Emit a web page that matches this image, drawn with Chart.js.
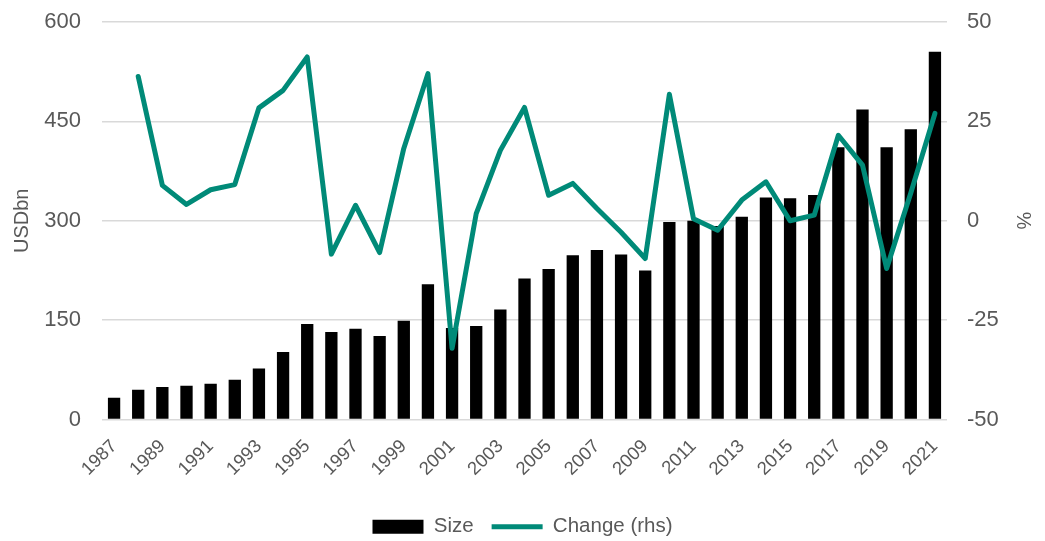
<!DOCTYPE html>
<html>
<head>
<meta charset="utf-8">
<script src="https://cdn.jsdelivr.net/npm/chart.js@4.4.1/dist/chart.umd.min.js"></script>
<style>
  html, body { margin: 0; padding: 0; background: #ffffff; }
  #wrap { width: 1045px; height: 541px; position: relative; }
</style>
</head>
<body>
<div id="wrap"><canvas id="chart" width="1045" height="541"></canvas></div>
<script>
// Market size by year (USD bn) and year-on-year change (%)
const years = [
  '1987','1988','1989','1990','1991','1992','1993','1994','1995','1996',
  '1997','1998','1999','2000','2001','2002','2003','2004','2005','2006',
  '2007','2008','2009','2010','2011','2012','2013','2014','2015','2016',
  '2017','2018','2019','2020','2021'
];
const sizeUsdBn = [
  33, 45, 49, 51, 54, 60, 77, 102, 144, 132,
  137, 126, 149, 204, 138, 141, 166, 213, 227, 248,
  256, 249, 225, 298, 300, 292, 306, 335, 334, 339,
  411, 468, 411, 438, 555
];
const changePct = [
  null, 36.3, 8.9, 4.1, 7.8, 9.1, 28.4, 32.8, 41.2, -8.4,
  3.9, -8.0, 18.2, 37.0, -32.1, 1.8, 17.7, 28.5, 6.4, 9.4,
  3.1, -2.9, -9.5, 31.8, 0.5, -2.4, 5.2, 9.8, 0.0, 1.4,
  21.5, 14.0, -12.0, 7.0, 27.0
];
const leftTicks = [0, 150, 300, 450, 600];
const rightTicks = [-50, -25, 0, 25, 50];

const FONT = '"Liberation Sans", Arial, sans-serif';
const TEXT = '#595959';
const GRID = '#d9d9d9';
const TEAL = '#008a78';

// Fixed axis widths; the vertical tick padding is handled by the layout padding instead
function fitVertical(width) {
  return (s) => {
    s.width = width;
    s.paddingTop = 0;
    s.paddingBottom = 0;
  };
}

const ctx = document.getElementById('chart').getContext('2d');
new Chart(ctx, {
  data: {
    labels: years,
    datasets: [
      {
        type: 'bar',
        label: 'Size',
        data: sizeUsdBn,
        yAxisID: 'y',
        backgroundColor: '#000000',
        borderWidth: 0,
        categoryPercentage: 1.0,
        barPercentage: 0.51,
        pointStyle: 'rect',
        order: 2
      },
      {
        type: 'line',
        label: 'Change (rhs)',
        data: changePct,
        yAxisID: 'y1',
        borderColor: TEAL,
        backgroundColor: TEAL,
        borderWidth: 5,
        borderJoinStyle: 'round',
        borderCapStyle: 'round',
        pointRadius: 0,
        pointHoverRadius: 0,
        pointStyle: 'line',
        tension: 0,
        spanGaps: false,
        order: 1
      }
    ]
  },
  options: {
    responsive: false,
    animation: false,
    devicePixelRatio: 1,
    layout: { padding: { top: 22, left: 0, right: 0, bottom: -6 } },
    plugins: {
      tooltip: { enabled: false },
      legend: {
        position: 'bottom',
        align: 'center',
        labels: {
          sort: (a, b) => a.datasetIndex - b.datasetIndex,
          usePointStyle: true,
          pointStyleWidth: 51,
          boxHeight: 14,
          padding: 18,
          color: TEXT,
          font: { family: FONT, size: 20.5 }
        }
      }
    },
    scales: {
      x: {
        grid: { display: false, drawTicks: false },
        border: { display: false },
        ticks: {
          autoSkip: false,
          minRotation: 45,
          maxRotation: 45,
          padding: 16,
          color: TEXT,
          font: { family: FONT, size: 18.5 },
          callback: function (value, index) {
            return index % 2 === 0 ? this.getLabelForValue(value) : '';
          }
        },
        afterFit: (s) => { s.height = 79; }
      },
      y: {
        position: 'left',
        min: 0,
        max: 600,
        afterBuildTicks: (s) => { s.ticks = leftTicks.map(v => ({ value: v })); },
        grid: { color: GRID, lineWidth: 1.5, drawTicks: false },
        border: { display: false },
        ticks: {
          padding: 21,
          color: TEXT,
          font: { family: FONT, size: 22 }
        },
        title: {
          display: true,
          text: 'USDbn',
          color: TEXT,
          font: { family: FONT, size: 20 },
          padding: { top: 10, bottom: 0 }
        },
        afterFit: fitVertical(102)
      },
      y1: {
        position: 'right',
        min: -50,
        max: 50,
        afterBuildTicks: (s) => { s.ticks = rightTicks.map(v => ({ value: v })); },
        grid: { display: false, drawTicks: false },
        border: { display: false },
        ticks: {
          padding: 20,
          color: TEXT,
          font: { family: FONT, size: 22 }
        },
        title: {
          display: true,
          text: '%',
          color: TEXT,
          font: { family: FONT, size: 20 },
          padding: { top: 10, bottom: 0 }
        },
        afterFit: fitVertical(98)
      }
    }
  }
});
</script>
</body>
</html>
